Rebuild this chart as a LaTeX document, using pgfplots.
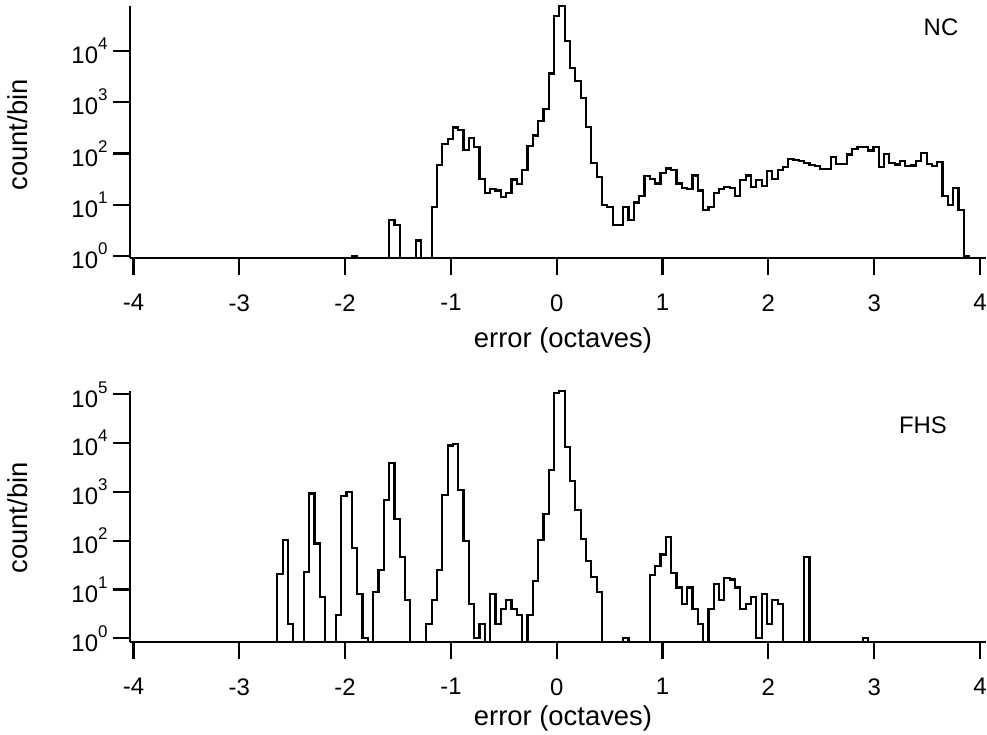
\documentclass[border=0pt]{standalone}
\usepackage{pgfplots}
\pgfplotsset{compat=1.18}
\usepackage{pgfplotstable}
\usepackage{fontspec}
\setmainfont{Liberation Sans}

% bin index k (bin centre = k * 0.0503 octave), count per bin; 0.1 marks an empty bin
\pgfplotstableread{
k c
-39 0.1
-38 1
-37 0.1
-31 5
-30 4
-29 0.1
-26 2
-25 0.1
-23 9
-22 60
-21 154
-20 189
-19 320
-18 290
-17 116
-16 198
-15 133
-14 32
-13 17
-12 20
-11 19
-10 14
-9 17
-8 31
-7 25
-6 48
-5 138
-4 224
-3 430
-2 740
-1 3600
0 47000
1 74000
2 15500
3 4700
4 2580
5 1200
6 333
7 64
8 35
9 10
10 9
11 4
12 4
13 9
14 5
15 11
16 15
17 36
18 32
19 26
20 41
21 51
22 47
23 26
24 21
25 20
26 37
27 19
28 8
29 9
30 17
31 20
32 22
33 21
34 15
35 30
36 37
37 22
38 30
39 23
40 45
41 32
42 47
43 54
44 79
45 75
46 71
47 65
48 60
49 56
50 50
51 50
52 85
53 63
54 63
55 95
56 120
57 133
58 133
59 114
60 133
61 54
62 98
63 65
64 61
65 70
66 57
67 58
68 70
69 103
70 63
71 57
72 68
73 15
74 10
75 21
76 8
77 1
78 0.1
}\nctable

\pgfplotstableread{
k c
-53 0.1
-52 21
-51 103
-50 2
-49 0.1
-47 23
-46 930
-45 88
-44 7
-43 0.1
-41 3
-40 820
-39 1000
-38 70
-37 8
-36 1
-35 0.1
-34 9
-33 25
-32 690
-31 3900
-30 275
-29 47
-28 6
-27 0.1
-24 2
-23 6
-22 25
-21 880
-20 8900
-19 9500
-18 1085
-17 100
-16 5
-15 1
-14 2
-13 0.1
-12 8
-11 2
-10 4
-9 6
-8 4
-7 3
-6 0.1
-5 3
-4 15
-3 105
-2 350
-1 2770
0 105000
1 118000
2 8350
3 1650
4 430
5 108
6 38
7 18
8 9
9 0.1
13 1
14 0.1
18 20
19 30
20 52
21 117
22 22
23 11
24 5
25 11
26 4
27 2
28 0.1
29 4
30 13
31 6
32 17
33 16
34 11
35 4
36 5
37 7
38 1
39 8
40 2
41 6
42 5
43 0.1
47 47
48 0.1
58 1
59 0.1
}\fhstable

\newcommand{\lbl}{\fontsize{27.5}{32}\selectfont}
\newcommand{\tlbl}{\fontsize{24}{28}\selectfont}
\newcommand{\ylbl}{\fontsize{24}{28}\selectfont}
\newcommand{\dec}[1]{10\raisebox{14bp}{\fontsize{17}{17}\selectfont #1}}

\pgfplotsset{
  histaxis/.style={
    scale only axis,
    width=856bp,
    xmin=-4.033, xmax=4.057,
    axis x line*=bottom, axis y line*=left,
    axis line style={line width=2.2bp, -, black},
    tick align=outside,
    major tick length=17bp,
    major tick style={line width=2.2bp, black},
    minor tick style={draw=none},
    xtick={-4,-3,-2,-1,0,1,2,3,4},
    xticklabels={-4,-3,-2,-1,0,1,2,3,4},
    xticklabel style={font=\tlbl, yshift=-16bp},
    yticklabel style={font=\ylbl, xshift=-2bp},
  },
  histline/.style={const plot mark left, black, line width=2.2bp, mark=none},
}

\begin{document}
\begin{tikzpicture}
\useasboundingbox (0,0) rectangle (987bp,735bp);

\begin{axis}[histaxis, ymode=log,
  at={(130bp,477bp)}, anchor=south west,
  height=252bp,
  ymin=0.914, ymax=74820,
  ytick={1,10,100,1000,10000},
  yticklabels={\dec{0},\dec{1},\dec{2},\dec{3},\dec{4}},
]
\addplot[histline] table[x expr={(\thisrow{k}-0.5)*0.0503}, y=c] {\nctable};
\end{axis}

\begin{axis}[histaxis, ymode=log,
  at={(130bp,93bp)}, anchor=south west,
  height=251.3bp,
  ymin=0.84, ymax=118600,
  ytick={1,10,100,1000,10000,100000},
  yticklabels={\dec{0},\dec{1},\dec{2},\dec{3},\dec{4},\dec{5}},
]
\addplot[histline] table[x expr={(\thisrow{k}-0.5)*0.0503}, y=c] {\fhstable};
\end{axis}

\node[rotate=90, font=\lbl, anchor=base] at (27bp,600bp) {count/bin};
\node[rotate=90, font=\lbl, anchor=base] at (27bp,217bp) {count/bin};
\node[font=\lbl] at (563bp,395bp) {error (octaves)};
\node[font=\lbl] at (563bp,17bp) {error (octaves)};
\node[font=\ylbl] at (941bp,708bp) {NC};
\node[font=\ylbl] at (923bp,310bp) {FHS};
\end{tikzpicture}
\end{document}
